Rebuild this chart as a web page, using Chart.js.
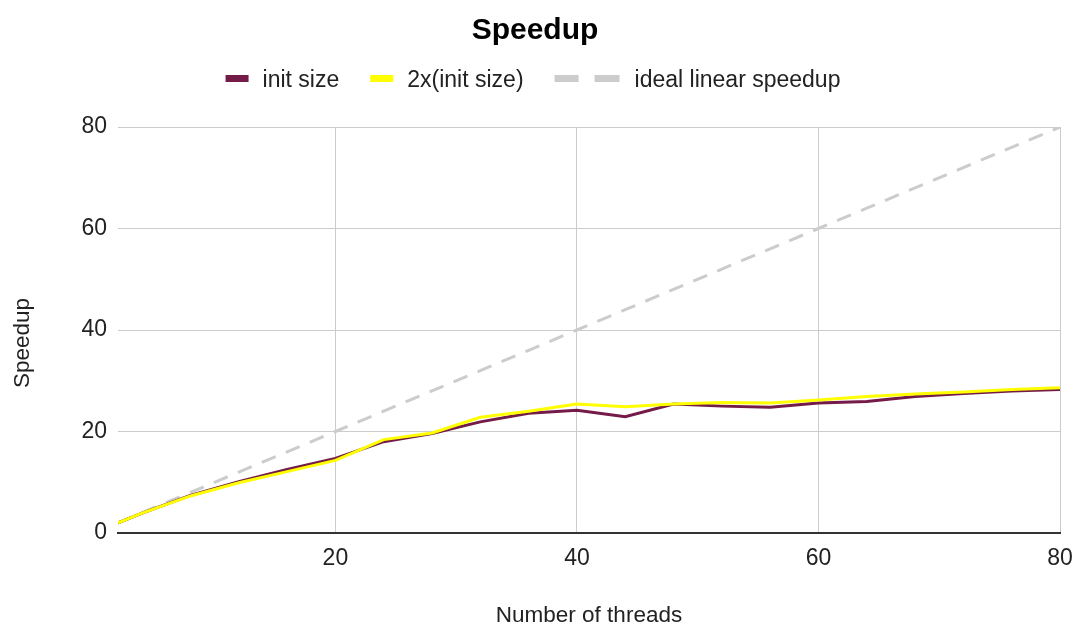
<!DOCTYPE html>
<html>
<head>
<meta charset="utf-8">
<script src="https://cdn.jsdelivr.net/npm/chart.js@4"></script>
<style>
  html, body { margin: 0; padding: 0; background: #fff; }
  #wrap { width: 1077px; height: 629px; }
</style>
</head>
<body>
<div id="wrap"><canvas id="c" width="1077" height="629"></canvas></div>
<script>
const threads = [2, 4, 8, 12, 16, 20, 24, 28, 32, 36, 40, 44, 48, 52, 56, 60, 64, 68, 72, 76, 80];
const initSize = [2.0, 3.9, 7.4, 10.1, 12.5, 14.7, 18.0, 19.6, 21.9, 23.6, 24.2, 22.9, 25.4, 25.0, 24.8, 25.6, 25.9, 26.9, 27.5, 28.0, 28.3];
const doubleSize = [2.0, 3.9, 7.3, 9.9, 12.1, 14.3, 18.4, 19.7, 22.8, 24.0, 25.4, 24.9, 25.4, 25.7, 25.6, 26.2, 26.9, 27.4, 27.8, 28.3, 28.6];
const idealSpeedup = [2, 4, 8, 12, 16, 20, 24, 28, 32, 36, 40, 44, 48, 52, 56, 60, 64, 68, 72, 76, 80];
const seriesNames = ['init size', '2x(init size)', 'ideal linear speedup'];
const xTicks = [20, 40, 60, 80];
const yTicks = [0, 20, 40, 60, 80];
const yAxisTitle = 'Speedup';

const FONT = "'Liberation Sans', Arial, sans-serif";
const PURPLE = '#741b47', YELLOW = '#ffff00', GRAY = '#cccccc';
const seriesColors = [PURPLE, YELLOW, GRAY];

function pts(vals) { return threads.map((t, i) => ({ x: t, y: vals[i] })); }

// Legend (short bars, dashed swatch for the ideal line) and the vertical axis title
const customLegend = {
  id: 'customLegend',
  afterDraw(chart) {
    const ctx = chart.ctx;
    const symW = [23, 23, 65];
    const symGap = [14, 14, 15];
    const itemGap = 31;
    const centerX = 533;
    const barTop = 75, barH = 7, baseline = 87;
    ctx.save();
    ctx.font = '23px ' + FONT;
    const widths = seriesNames.map(n => ctx.measureText(n).width);
    let total = 0;
    seriesNames.forEach((n, i) => { total += symW[i] + symGap[i] + widths[i]; });
    total += itemGap * (seriesNames.length - 1);
    let x = centerX - total / 2;
    seriesNames.forEach((n, i) => {
      ctx.fillStyle = seriesColors[i];
      if (i === 2) {
        ctx.fillRect(x, barTop, 24, barH);
        ctx.fillRect(x + 40, barTop, 25, barH);
      } else {
        ctx.fillRect(x, barTop, symW[i], barH);
      }
      x += symW[i] + symGap[i];
      ctx.fillStyle = '#222';
      ctx.textBaseline = 'alphabetic';
      ctx.textAlign = 'left';
      ctx.fillText(n, x, baseline);
      x += widths[i] + itemGap;
    });
    // vertical axis title
    ctx.translate(23, 343);
    ctx.rotate(-Math.PI / 2);
    ctx.font = '22.5px ' + FONT;
    ctx.textAlign = 'center';
    ctx.textBaseline = 'middle';
    ctx.fillStyle = '#222';
    ctx.fillText(yAxisTitle, 0, 0);
    ctx.restore();
  }
};

new Chart(document.getElementById('c'), {
  type: 'line',
  data: {
    datasets: [
      { label: seriesNames[0], data: pts(initSize), borderColor: PURPLE, backgroundColor: PURPLE, borderWidth: 3, pointRadius: 0, tension: 0, order: 2 },
      { label: seriesNames[1], data: pts(doubleSize), borderColor: YELLOW, backgroundColor: YELLOW, borderWidth: 3, pointRadius: 0, tension: 0, order: 1 },
      { label: seriesNames[2], data: pts(idealSpeedup), borderColor: GRAY, backgroundColor: GRAY, borderWidth: 3, borderDash: [15, 11], pointRadius: 0, tension: 0, order: 3 }
    ]
  },
  plugins: [customLegend],
  options: {
    responsive: false,
    animation: false,
    layout: { padding: { left: 10, right: 17, top: 0, bottom: 0 } },
    plugins: {
      tooltip: { enabled: false },
      legend: { display: false },
      title: {
        display: true, text: 'Speedup', color: '#000',
        font: { family: FONT, size: 30, weight: 'bold' },
        padding: { top: 13, bottom: 78 }
      }
    },
    scales: {
      x: {
        type: 'linear', min: 2, max: 80,
        afterBuildTicks: s => { s.ticks = xTicks.map(v => ({ value: v })); },
        afterFit: s => { s.height = 629 - 533; s.paddingRight = 5; s.paddingLeft = 0; },
        grid: { color: '#cccccc', lineWidth: 1, drawTicks: false },
        border: { display: true, color: '#333333', width: 2 },
        ticks: { color: '#222', font: { family: FONT, size: 23 }, padding: 12, maxRotation: 0 },
        title: { display: true, text: 'Number of threads', color: '#222', font: { family: FONT, size: 22.5 }, padding: { top: 0, bottom: 0 } }
      },
      y: {
        min: 0, max: 80,
        afterBuildTicks: s => { s.ticks = yTicks.map(v => ({ value: v })); },
        afterFit: s => { s.width = 118 - 10; },
        grid: { color: ctx => (ctx.tick && ctx.tick.value === 0) ? '#333333' : '#cccccc', lineWidth: 1, drawTicks: false },
        border: { display: false },
        ticks: { color: '#222', font: { family: FONT, size: 23 }, padding: 11 },
        title: { display: false }
      }
    }
  }
});
</script>
</body>
</html>
